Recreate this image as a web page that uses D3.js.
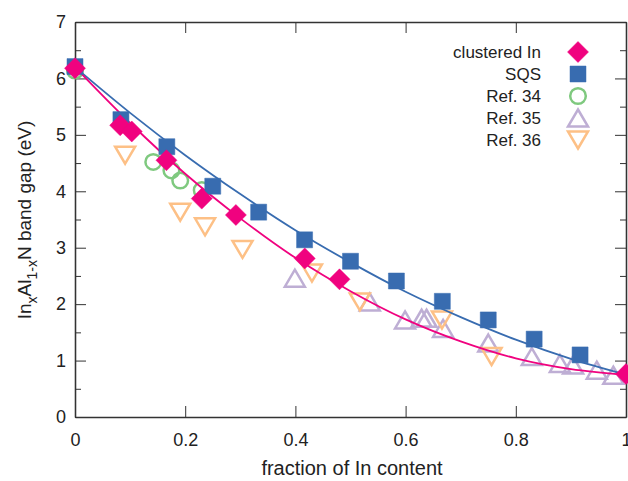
<!DOCTYPE html>
<html>
<head>
<meta charset="utf-8">
<script src="https://cdn.jsdelivr.net/npm/d3@7"></script>
<style>
  body { margin: 0; background: #fff; }
  text { font-family: "Liberation Sans", Arial, sans-serif; fill: #222; }
</style>
</head>
<body>
<div id="chart-area"></div>
<script>
// clustered In (diamonds)
const clusterX = [0, 0.082, 0.103, 0.166, 0.23, 0.292, 0.417, 0.48, 1.0]
const clusterY = [6.18, 5.17, 5.06, 4.55, 3.87, 3.58, 2.81, 2.44, 0.76]
// SQS (squares)
const sqsX = [0, 1/12, 2/12, 3/12, 4/12, 5/12, 6/12, 7/12, 8/12, 9/12, 10/12, 11/12]
const sqsY = [6.21, 5.27, 4.79, 4.09, 3.63, 3.14, 2.76, 2.41, 2.05, 1.72, 1.38, 1.10]
// Ref. 34 (circles)
const ref34X = [0, 0.142, 0.175, 0.191, 0.23]
const ref34Y = [6.14, 4.52, 4.37, 4.19, 4.02]
// Ref. 35 (up triangles)
const ref35X = [0.399, 0.535, 0.599, 0.629, 0.638, 0.668, 0.75, 0.829, 0.88, 0.904, 0.947, 0.977]
const ref35Y = [2.46, 2.04, 1.72, 1.75, 1.75, 1.57, 1.31, 1.07, 0.95, 0.92, 0.83, 0.74]
// Ref. 36 (down triangles)
const ref36X = [0.091, 0.191, 0.236, 0.304, 0.43, 0.517, 0.666, 0.756]
const ref36Y = [4.64, 3.63, 3.37, 2.97, 2.55, 2.04, 1.72, 1.07]
// fitted curves
const curveX = [0, 0.1, 0.2, 0.3, 0.4, 0.5, 0.6, 0.7, 0.8, 0.9, 1.0]
const fitClusterY = [6.2, 5.21, 4.31, 3.52, 2.82, 2.23, 1.73, 1.34, 1.04, 0.85, 0.75]
const fitSqsY = [6.2, 5.39, 4.64, 3.95, 3.31, 2.74, 2.22, 1.77, 1.37, 1.03, 0.75]

const xTicks = [0, 0.2, 0.4, 0.6, 0.8, 1]
const xTickLabels = ["0", "0.2", "0.4", "0.6", "0.8", "1"]
const yTicks = [0, 1, 2, 3, 4, 5, 6, 7]
const yMinor = [0.5, 1.5, 2.5, 3.5, 4.5, 5.5, 6.5]
const legendLabels = ["clustered In", "SQS", "Ref. 34", "Ref. 35", "Ref. 36"]

const pink = "#f0027f", blue = "#386cb0", green = "#7fc97f", purple = "#beaed4", orange = "#fdc086"

const svgWidth = 628, svgHeight = 481
const margin = { left: 75, right: 2, top: 22, bottom: 64 }

const svg = d3.select("#chart-area").append("svg")
    .attr("width", svgWidth)
    .attr("height", svgHeight)

const x = d3.scaleLinear().domain([0, 1]).range([margin.left, svgWidth - margin.right])
const y = d3.scaleLinear().domain([0, 7]).range([svgHeight - margin.bottom, margin.top])

// custom markers centred on their bounding box
const diamond = { draw(ctx, s) { ctx.moveTo(0, -s); ctx.lineTo(s, 0); ctx.lineTo(0, s); ctx.lineTo(-s, 0); ctx.closePath() } }
const square = { draw(ctx, s) { ctx.rect(-s, -s, 2 * s, 2 * s) } }
const triUp = { draw(ctx, s) { ctx.moveTo(0, -s * 0.85); ctx.lineTo(s, s * 0.85); ctx.lineTo(-s, s * 0.85); ctx.closePath() } }
const triDown = { draw(ctx, s) { ctx.moveTo(0, s * 0.85); ctx.lineTo(s, -s * 0.85); ctx.lineTo(-s, -s * 0.85); ctx.closePath() } }

const frameColor = "#333"

function styleAxis(g) {
    g.selectAll("path.domain").attr("stroke", frameColor).attr("stroke-width", 1.3)
    g.selectAll(".tick line").attr("stroke", frameColor).attr("stroke-width", 1)
    g.selectAll(".tick text").style("font-size", "18px").attr("fill", "#222")
}

const x0 = y(0), yTop = y(7)

svg.append("g").attr("transform", `translate(0,${x0})`)
    .call(d3.axisBottom(x).tickValues(xTicks).tickFormat((d, i) => xTickLabels[i]).tickSize(-11).tickSizeOuter(0).tickPadding(16))
    .call(styleAxis)
svg.append("g").attr("transform", `translate(0,${yTop})`)
    .call(d3.axisTop(x).tickValues(xTicks).tickFormat("").tickSize(-11).tickSizeOuter(0))
    .call(styleAxis)
svg.append("g").attr("transform", `translate(${x(0)},0)`)
    .call(d3.axisLeft(y).tickValues(yTicks).tickFormat(d3.format("d")).tickSize(-11).tickSizeOuter(0).tickPadding(9))
    .call(styleAxis)
svg.append("g").attr("transform", `translate(${x(0)},0)`)
    .call(d3.axisLeft(y).tickValues(yMinor).tickFormat("").tickSize(-6).tickSizeOuter(0))
    .call(styleAxis)
svg.append("g").attr("transform", `translate(${x(1)},0)`)
    .call(d3.axisRight(y).tickValues(yTicks).tickFormat("").tickSize(-11).tickSizeOuter(0))
    .call(styleAxis)
svg.append("g").attr("transform", `translate(${x(1)},0)`)
    .call(d3.axisRight(y).tickValues(yMinor).tickFormat("").tickSize(-6).tickSizeOuter(0))
    .call(styleAxis)

// axis titles
svg.append("text")
    .attr("x", 352).attr("y", 475)
    .attr("text-anchor", "middle")
    .style("font-size", "20px")
    .text("fraction of In content")

const ylab = svg.append("text")
    .attr("transform", "translate(31,220) rotate(-90)")
    .attr("text-anchor", "middle")
    .style("font-size", "19px")
ylab.append("tspan").text("In")
ylab.append("tspan").attr("dy", 6).style("font-size", "14px").text("x")
ylab.append("tspan").attr("dy", -6).text("Al")
ylab.append("tspan").attr("dy", 6).style("font-size", "14px").text("1-x")
ylab.append("tspan").attr("dy", -6).text("N band gap (eV)")

// scatter helper
function drawPoints(xs, ys, type, size, color, filled) {
    const sym = d3.symbol().type(type).size(size)
    svg.append("g").selectAll("path")
        .data(xs.map((d, i) => [d, ys[i]]))
        .enter().append("path")
        .attr("transform", d => `translate(${x(d[0])},${y(d[1])})`)
        .attr("d", sym)
        .attr("fill", filled ? color : "none")
        .attr("stroke", color)
        .attr("stroke-width", filled ? 0.5 : 2.5)
}

const circleSize = Math.PI * 7.8 * 7.8
drawPoints(ref34X, ref34Y, d3.symbolCircle, circleSize, green, false)
drawPoints(ref35X, ref35Y, triUp, 10, purple, false)
drawPoints(ref36X, ref36Y, triDown, 10, orange, false)

const line = d3.line().x(d => x(d[0])).y(d => y(d[1])).curve(d3.curveCatmullRom)
svg.append("path")
    .attr("d", line(curveX.map((d, i) => [d, fitSqsY[i]])))
    .attr("fill", "none").attr("stroke", blue).attr("stroke-width", 1.8)
svg.append("path")
    .attr("d", line(curveX.map((d, i) => [d, fitClusterY[i]])))
    .attr("fill", "none").attr("stroke", pink).attr("stroke-width", 1.8)

drawPoints(sqsX, sqsY, square, 8, blue, true)
drawPoints(clusterX, clusterY, diamond, 10.5, pink, true)

// legend
const legendTypes = [[diamond, 10.5, pink, true], [square, 8, blue, true], [d3.symbolCircle, circleSize, green, false], [triUp, 10, purple, false], [triDown, 10, orange, false]]
const legend = svg.append("g")
legendLabels.forEach((lab, i) => {
    const ly = 52 + i * 22
    legend.append("text")
        .attr("x", 541).attr("y", ly + 6)
        .attr("text-anchor", "end")
        .style("font-size", "17px")
        .text(lab)
    const t = legendTypes[i]
    legend.append("path")
        .attr("transform", `translate(578,${ly})`)
        .attr("d", d3.symbol().type(t[0]).size(t[1])())
        .attr("fill", t[3] ? t[2] : "none")
        .attr("stroke", t[2])
        .attr("stroke-width", t[3] ? 0.5 : 2.5)
})
</script>
</body>
</html>
